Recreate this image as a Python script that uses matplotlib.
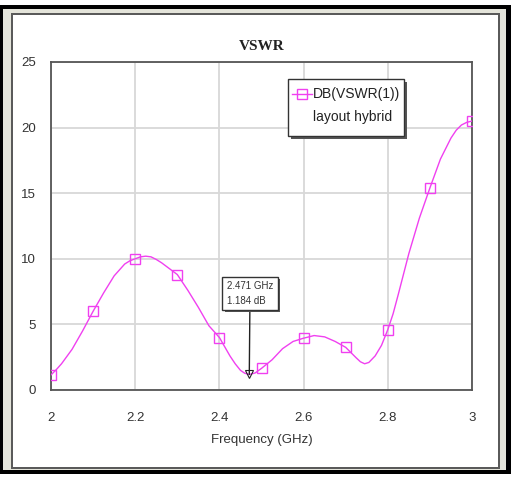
import numpy as np
import matplotlib
matplotlib.use("Agg")
import matplotlib.pyplot as plt
from matplotlib.patches import Rectangle
from matplotlib.lines import Line2D
import matplotlib.patheffects as pe

# ---- data ----
freq = [2.000, 2.0125, 2.025, 2.050, 2.075, 2.100, 2.125, 2.150, 2.175, 2.1875,
        2.200, 2.2125, 2.225, 2.2375, 2.250, 2.2625, 2.275, 2.300, 2.325, 2.350,
        2.375, 2.400, 2.425, 2.4375, 2.450, 2.460, 2.471, 2.485, 2.500, 2.525,
        2.550, 2.575, 2.600, 2.625, 2.650, 2.675, 2.700, 2.7125, 2.725, 2.735,
        2.745, 2.755, 2.770, 2.785, 2.800, 2.8125, 2.825, 2.850, 2.875, 2.900,
        2.925, 2.950, 2.9625, 2.975, 2.9875, 3.000]
vswr_db = [1.15, 1.55, 2.0, 3.1, 4.5, 6.0, 7.4, 8.7, 9.6, 9.85,
           10.0, 10.15, 10.2, 10.15, 9.95, 9.7, 9.4, 8.8, 7.6, 6.3,
           4.9, 4.0, 2.6, 2.0, 1.5, 1.28, 1.184, 1.3, 1.65, 2.3,
           3.15, 3.7, 3.95, 4.15, 4.05, 3.7, 3.25, 2.85, 2.45, 2.15,
           2.0, 2.1, 2.6, 3.4, 4.6, 5.8, 7.3, 10.4, 13.1, 15.4,
           17.6, 19.2, 19.8, 20.2, 20.4, 20.5]
marker_freq = [2.471]
marker_val = [1.184]
xticks = [2, 2.2, 2.4, 2.6, 2.8, 3]
xticklabels = ["2", "2.2", "2.4", "2.6", "2.8", "3"]
yticks = [0, 5, 10, 15, 20, 25]
yticklabels = ["0", "5", "10", "15", "20", "25"]
legend_lines = ["DB(VSWR(1))", "layout hybrid"]

W, H = 514, 480
fig = plt.figure(figsize=(W / 100, H / 100), dpi=100)
fig.patch.set_facecolor("white")

def fr(x0, y0, x1, y1):
    return (x0 / W, 1 - y1 / H), (x1 - x0) / W, (y1 - y0) / H

for (x0, y0, x1, y1, fc) in [
        (0, 5, 511, 474, "black"),
        (3, 9, 506, 470, "#e4e4da"),
        (11, 13, 500, 469, "#5a5a5a"),
        (13, 15, 498, 467, "white")]:
    xy, w, h = fr(x0, y0, x1, y1)
    fig.patches.append(Rectangle(xy, w, h, transform=fig.transFigure,
                                 facecolor=fc, edgecolor="none", lw=0, zorder=-10))

fam = ["Liberation Sans", "DejaVu Sans"]
plt.rcParams["font.family"] = fam

# axes: x 51..472 px, y 62..390 px
ax = fig.add_axes([51 / W, 1 - 390 / H, 421 / W, 328 / H])
ax.set_zorder(1)
ax.set_facecolor("white")
ax.set_xlim(2, 3)
ax.set_ylim(0, 25)
ax.set_xticks(xticks)
ax.set_xticklabels(xticklabels)
ax.set_yticks(yticks)
ax.set_yticklabels(yticklabels)
ax.tick_params(axis="both", length=0, labelsize=9.5, colors="#333333")
ax.tick_params(axis="x", pad=16)
ax.tick_params(axis="y", pad=11)
ax.grid(True, color="#d8d8d8", lw=1.3)
ax.set_axisbelow(True)
for s in ax.spines.values():
    s.set_color("#555555")
    s.set_linewidth(1.3)

color = "#f040f0"
fa = np.array(freq)
mk = [i for i, f in enumerate(fa) if abs(f * 10 - round(f * 10)) < 1e-6]
ax.plot(freq, vswr_db, color=color, lw=1.0, marker="s", markersize=7,
        markerfacecolor="none", markeredgecolor=color, markeredgewidth=1.0,
        markevery=mk, clip_on=True, zorder=3)

# marker annotation
ax.plot(marker_freq, marker_val, marker="v", markersize=5.5, markerfacecolor="none",
        markeredgecolor="#222222", markeredgewidth=0.8, zorder=5, ls="none")
ann = ax.annotate(f"{marker_freq[0]:.3f} GHz\n{marker_val[0]:.3f} dB",
                  xy=(marker_freq[0], marker_val[0]), xytext=(2.4727, 7.36),
                  ha="center", va="center", multialignment="left",
                  fontsize=7, color="#333333", linespacing=1.6,
                  bbox=dict(boxstyle="square,pad=0.45", fc="white", ec="#333333", lw=1),
                  arrowprops=dict(arrowstyle="-", color="#222222", lw=1,
                                  shrinkA=0, shrinkB=0), zorder=6)
ann.get_bbox_patch().set_path_effects([
    pe.SimplePatchShadow(offset=(1.5, -1.5), shadow_rgbFace="#555555", alpha=1.0),
    pe.Normal()])

# legend box (drawn manually to match)
lx0, ly0, lx1, ly1 = 288, 79, 404, 136
xy, w, h = fr(lx0, ly0, lx1, ly1)
leg = Rectangle(xy, w, h, transform=fig.transFigure, facecolor="white",
                edgecolor="#333333", lw=1, zorder=10)
leg.set_path_effects([pe.SimplePatchShadow(offset=(2, -2), shadow_rgbFace="#555555", alpha=1.0),
                      pe.Normal()])
fig.add_artist(leg)
fig.add_artist(Line2D([292 / W, 312 / W], [1 - 94 / H, 1 - 94 / H], color=color, lw=1,
                      zorder=11))
fig.add_artist(Line2D([302 / W], [1 - 94 / H], color=color, lw=0, marker="s",
                      markersize=6.5, markerfacecolor="none", markeredgecolor=color, zorder=11))
fig.text(313 / W, 1 - 94 / H, legend_lines[0], fontsize=10, color="#222222",
         va="center", ha="left", zorder=12)
fig.text(313 / W, 1 - 117 / H, legend_lines[1], fontsize=10, color="#222222",
         va="center", ha="left", zorder=12)

# title and label
fig.text(261.5 / W, 1 - 46 / H, "VSWR", fontsize=11, fontweight="bold",
         family=["Liberation Serif", "DejaVu Serif"], ha="center", va="center", color="#222222")
ax.set_xlabel("Frequency (GHz)", fontsize=9.5, color="#333333", labelpad=7)

fig.savefig("out.png", dpi=100)
